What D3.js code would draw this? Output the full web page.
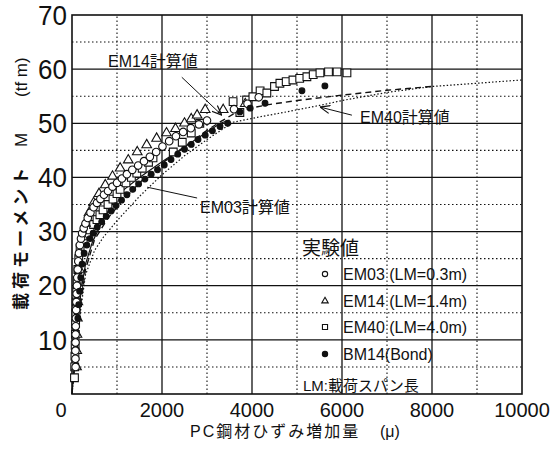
<!DOCTYPE html>
<html>
<head>
<meta charset="utf-8">
<script src="https://cdn.jsdelivr.net/npm/d3@7"></script>
<style>
  body { margin: 0; background: #fff; }
  text { font-family: "Liberation Sans", Arial, "Noto Sans CJK JP", sans-serif; fill: #111; }
</style>
</head>
<body>
<svg id="chart" width="553" height="450"></svg>
<script>
// Data: [strain (μ), moment (tf·m)]
var em03 = [[80,5],[76,6.5],[76,8],[78,9.5],[80,11],[83,12.5],[87,14],[92,15.5],[97,17],[103,18.5],
  [110,20],[118,21.5],[128,23],[140,24.5],[155,26],[175,27.5],[200,28.7],[225,29.7],[260,30.6],[300,31.5],
  [350,32.5],[410,33.5],[480,34.5],[555,35.3],[630,36],[710,36.8],[800,37.5],[900,38.3],[1000,39],
  [1110,39.8],[1220,40.6],[1340,41.4],[1470,42.2],[1600,43],[1730,43.8],[1870,44.7],[2010,45.7],
  [2160,46.7],[2310,47.6],[2470,48.4],[2640,49.1],[2820,49.8],[3000,50.5],[3600,52.6],[3900,53.6],[4150,54.8]];
var em14 = [[100,5],[105,8],[110,11],[120,14],[130,17],[145,20],[165,23],[195,26],[240,29],[300,31.5],
  [380,33.5],[480,35.3],[600,37],[740,38.6],[900,40.2],[1070,41.7],[1250,43.2],[1450,44.7],[1660,46],
  [1880,47.2],[2100,48.2],[2300,49],[2500,50],[2650,50.8],[2780,51.5],[2960,52.5],[3360,52.5],[3850,53.6]];
var em40 = [[55,3],[60,5],[65,7],[70,9],[75,11],[80,13],[88,15],[95,17],[105,19],[115,21],[130,23],
  [150,25],[180,27],[250,28.3],[330,29.4],[400,30.3],[480,31.3],[555,32.2],[620,33.1],[690,34],[800,35],
  [910,36],[1000,37],[1070,37.8],[1200,39],[1320,40],[1440,40.8],[1560,41.7],[1700,42.8],[1800,43.6],
  [2250,44.7],[2450,46.5],[2650,48.2],[2840,50],[3580,54],[3730,52],[3880,54.3],[4020,54.9],[4180,56],
  [4330,55.6],[4500,56.8],[4620,57.4],[4760,57.7],[4910,58],[5060,58.3],[5220,58.6],[5360,59],[5510,59.3],
  [5700,59.5],[5890,59.5],[6110,59.3]];
var bm14 = [[130,14],[150,16.5],[170,19],[195,21.5],[225,24],[270,26],[330,27.5],[400,28.7],[470,29.7],
  [560,30.8],[660,31.8],[760,32.8],[870,33.8],[980,34.8],[1100,35.8],[1220,36.8],[1350,37.8],[1480,38.8],
  [1620,39.7],[1760,40.6],[1900,41.4],[2050,42.3],[2200,43.3],[2350,44.3],[2500,45.2],[2650,46.1],[2800,47],
  [2960,47.8],[3120,48.6],[3290,49.4],[3460,50],[3730,52.1],[3960,52.8],[4290,53.7],[5110,56],[5620,56.9]];

// Calculated curves
var calc03 = [[0,0],[120,12],[200,19],[300,24],[450,28],[650,31.5],[850,34.5],[1070,37.2],[1500,40],
  [2000,42.9],[2500,45.6],[3000,48.4],[3300,50],[3500,50.6]];
var calc14 = [[0,0],[150,14],[300,23],[500,28.5],[800,32.5],[1100,35.5],[1500,39],[2000,42.6],[2500,45.7],
  [3000,48.7],[3300,50.3],[3730,52.4],[4330,53.4],[5000,54.2],[6000,55.2],[7000,56.1],[8000,56.8]];
var calc40 = [[0,0],[150,13],[300,22],[500,26.5],[700,29],[1000,32],[1500,36.5],[2000,40.5],[2500,44],
  [3000,47],[3580,50.2],[4180,51.2],[4700,52],[5500,53.3],[6000,54.2],[7000,55.7],[8000,56.8],[9000,57.4],[10000,58]];

var xTicks = [0, 2000, 4000, 6000, 8000, 10000];
var yTicks = [10, 20, 30, 40, 50, 60, 70];

var svg = d3.select("#chart");
var x = d3.scaleLinear().domain([0, 10000]).range([72, 522]);
var y = d3.scaleLinear().domain([0, 70]).range([394, 15]);
var ink = "#111";

// grid
var grid = svg.append("g");
d3.range(1000, 10000, 1000).forEach(function(v) {
  grid.append("line").attr("x1", x(v)).attr("x2", x(v)).attr("y1", y(0)).attr("y2", y(70))
    .attr("stroke", ink)
    .attr("stroke-width", v % 2000 === 0 ? 1.3 : 1.1)
    .attr("stroke-dasharray", v % 2000 === 0 ? null : "1.5,2.5");
});
d3.range(5, 70, 5).forEach(function(v) {
  grid.append("line").attr("x1", x(0)).attr("x2", x(10000)).attr("y1", y(v)).attr("y2", y(v))
    .attr("stroke", ink)
    .attr("stroke-width", v % 10 === 0 ? 1.3 : 1.1)
    .attr("stroke-dasharray", v % 10 === 0 ? null : "1.5,2.5");
});
svg.append("rect").attr("x", x(0)).attr("y", y(70)).attr("width", x(10000) - x(0)).attr("height", y(0) - y(70))
  .attr("fill", "none").attr("stroke", ink).attr("stroke-width", 1.6);

// tick labels
svg.selectAll(".xt").data(xTicks).enter().append("text")
  .attr("x", function(d) { return d === 0 ? x(d) - 11 : x(d); })
  .attr("y", 417).attr("text-anchor", "middle").style("font-size", "20px")
  .text(function(d) { return d; });
svg.selectAll(".yt").data(yTicks).enter().append("text")
  .attr("x", 67).attr("y", function(d) { return y(d) + 9; }).attr("text-anchor", "end")
  .style("font-size", "26px").attr("transform", function(d) { return "translate(0," + (-y(d) * 0.08) + ") scale(1,1.08)"; })
  .text(function(d) { return d; });

// axis titles
svg.append("text").attr("x", 190).attr("y", 437).style("font-size", "16px").style("letter-spacing", "2px")
  .text("PC鋼材ひずみ増加量");
svg.append("text").attr("x", 380).attr("y", 437).style("font-size", "16px").text("(μ)");
var yt = svg.append("text").attr("transform", "translate(27,310) rotate(-90)").style("font-size", "17px");
yt.append("tspan").attr("x", 0).style("letter-spacing", "4px").style("font-weight", "bold").text("載荷モーメント");
yt.append("tspan").attr("x", 163).text("M");
yt.append("tspan").attr("x", 213).text("(tf m)");

// calculated lines
var line = d3.line().x(function(d) { return x(d[0]); }).y(function(d) { return y(d[1]); });
svg.append("path").attr("d", line(calc40)).attr("fill", "none").attr("stroke", ink)
  .attr("stroke-width", 1.2).attr("stroke-dasharray", "1.5,2");
svg.append("path").attr("d", line(calc14)).attr("fill", "none").attr("stroke", ink)
  .attr("stroke-width", 1.4).attr("stroke-dasharray", "6,4");
svg.append("path").attr("d", line(calc03)).attr("fill", "none").attr("stroke", ink).attr("stroke-width", 1.2);

// markers
function drawSeries(data, type, size, filled) {
  svg.append("g").selectAll("path").data(data).enter().append("path")
    .attr("transform", function(d) { return "translate(" + x(d[0]) + "," + y(d[1]) + ")"; })
    .attr("d", d3.symbol().type(type).size(size))
    .attr("fill", filled ? ink : "#fff").attr("stroke", ink).attr("stroke-width", 1.1);
}
drawSeries(em40, d3.symbolSquare, 60, false);
drawSeries(em14, d3.symbolTriangle, 40, false);
drawSeries(em03, d3.symbolCircle, 45, false);
drawSeries(bm14, d3.symbolCircle, 26, true);

// annotations
svg.append("defs").append("marker").attr("id", "arr").attr("viewBox", "0 0 10 10")
  .attr("refX", 10).attr("refY", 5).attr("markerWidth", 10).attr("markerHeight", 10)
  .attr("markerUnits", "userSpaceOnUse").attr("orient", "auto")
  .append("path").attr("d", "M0,1 L10,5 L0,9").attr("fill", "none").attr("stroke", ink).attr("stroke-width", 1.2);

svg.append("text").attr("x", 108).attr("y", 67).style("font-size", "16px").text("EM14計算値");
svg.append("line").attr("x1", x(2440)).attr("y1", y(58.5)).attr("x2", x(3330)).attr("y2", y(51.5))
  .attr("stroke", ink).attr("stroke-width", 1).attr("marker-end", "url(#arr)");

svg.append("text").attr("x", 360).attr("y", 123).style("font-size", "16px").text("EM40計算値");
svg.append("line").attr("x1", x(6220)).attr("y1", y(51.5)).attr("x2", x(5510)).attr("y2", y(53))
  .attr("stroke", ink).attr("stroke-width", 1).attr("marker-end", "url(#arr)");

svg.append("text").attr("x", 200).attr("y", 213).style("font-size", "16px").text("EM03計算値");
svg.append("line").attr("x1", x(1670)).attr("y1", y(38.2)).attr("x2", x(2780)).attr("y2", y(36.2))
  .attr("stroke", ink).attr("stroke-width", 1);

// legend
var legendItems = [
  { type: d3.symbolCircle, size: 22, filled: false, text: "EM03 (LM=0.3m)", yy: 280 },
  { type: d3.symbolTriangle, size: 18, filled: false, text: "EM14 (LM=1.4m)", yy: 307 },
  { type: d3.symbolSquare, size: 26, filled: false, text: "EM40 (LM=4.0m)", yy: 333 },
  { type: d3.symbolCircle, size: 22, filled: true, text: "BM14(Bond)", yy: 360 }
];
svg.append("text").attr("x", 302).attr("y", 255).style("font-size", "19px").text("実験値");
legendItems.forEach(function(d) {
  svg.append("path").attr("transform", "translate(325," + (d.yy - 6) + ")")
    .attr("d", d3.symbol().type(d.type).size(d.size))
    .attr("fill", d.filled ? ink : "#fff").attr("stroke", ink).attr("stroke-width", 1.1);
  svg.append("text").attr("x", 343).attr("y", d.yy).style("font-size", "16px").text(d.text);
});
svg.append("text").attr("x", 303).attr("y", 391).style("font-size", "15px").text("LM:載荷スパン長");
</script>
</body>
</html>
